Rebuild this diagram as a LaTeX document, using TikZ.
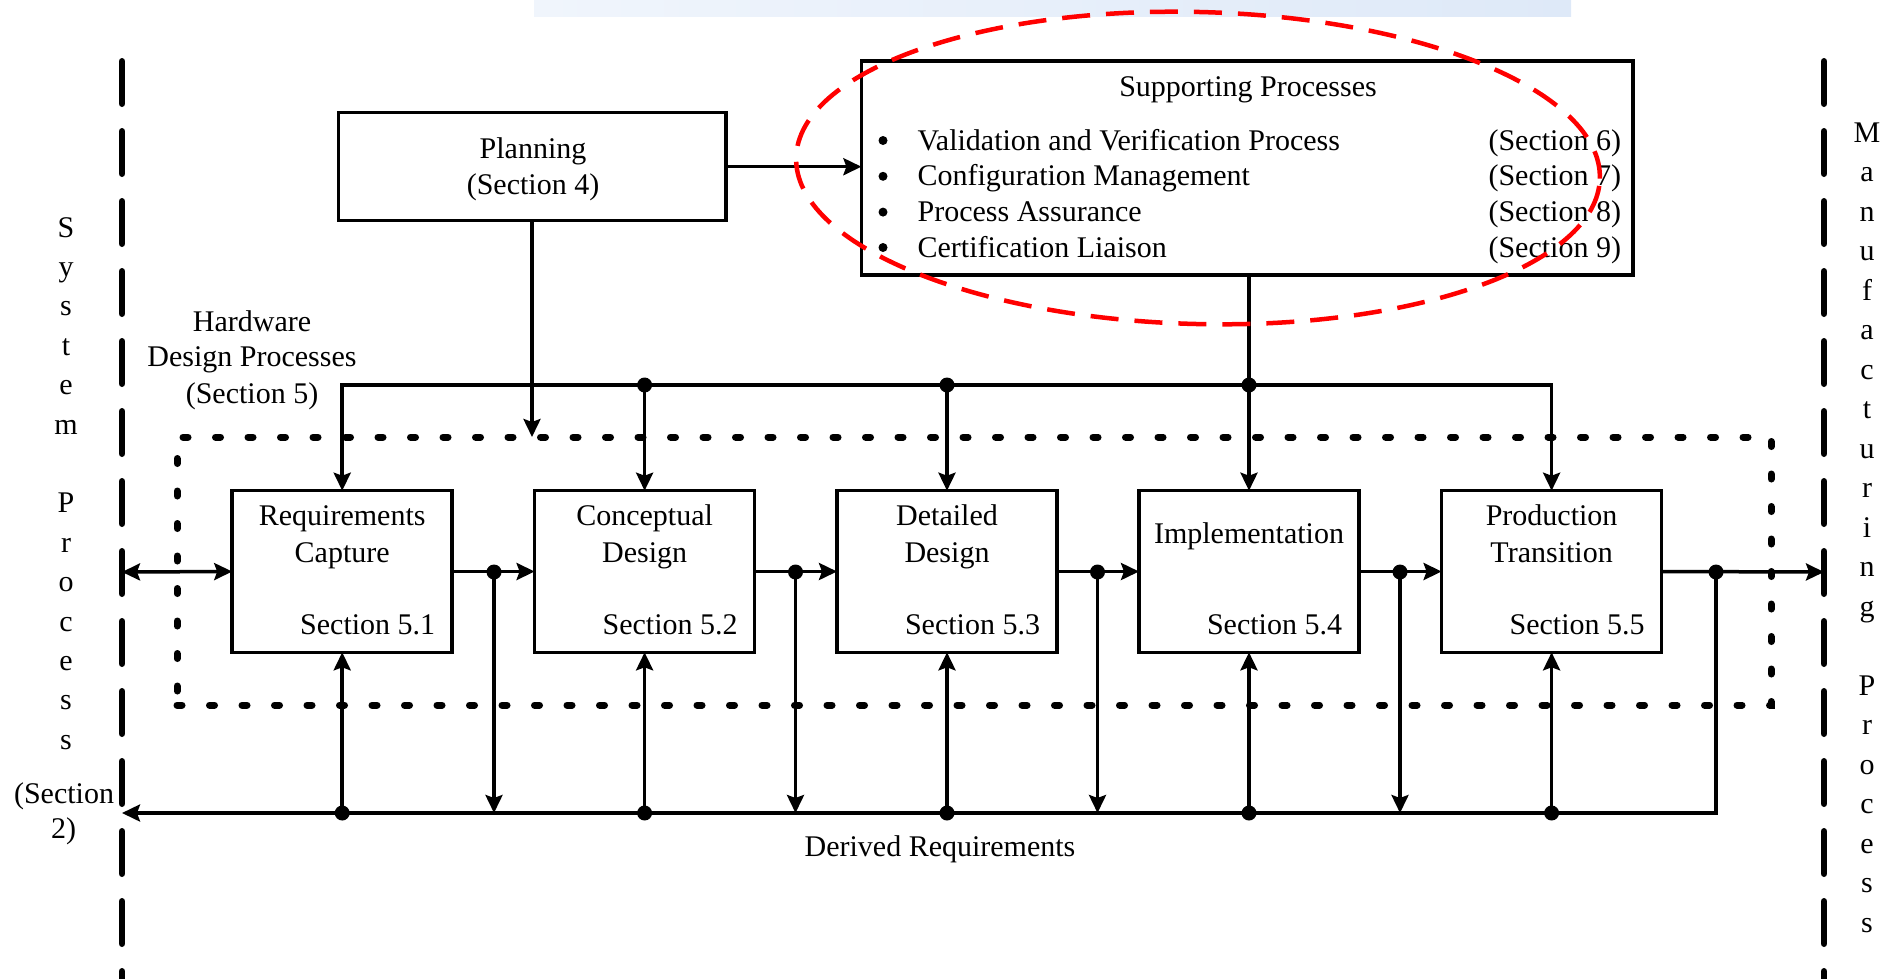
\documentclass[tikz,border=0pt]{standalone}
\usepackage{fontspec}
\setmainfont{Liberation Serif}
\usetikzlibrary{arrows.meta}

\definecolor{bandL}{RGB}{240,245,252}
\definecolor{bandM}{RGB}{214,228,246}
\definecolor{bandR}{RGB}{222,233,248}

\begin{document}
\begin{tikzpicture}[x=1pt,y=-1pt,
  every node/.style={inner sep=0pt, outer sep=0pt, font=\fontsize{30}{36}\selectfont},
  txt/.style={anchor=base},
  conn/.style={line width=3.5pt},
  >={Stealth[length=18pt,width=17pt,inset=3pt]},
  proc/.style={draw, line width=3.5pt, minimum width=220pt, minimum height=161.6pt},
  hwbox/.style={draw, line width=7pt, line cap=round, dash pattern=on 5pt off 27.5pt,
                minimum width=1594pt, minimum height=268pt},
  boundary/.style={line width=6.5pt, line cap=round, dash pattern=on 42.5pt off 27.5pt},
  junction/.style={circle, fill=black, minimum size=15pt},
  bullet/.style={circle, fill=black, minimum size=9pt},
  focus/.style={draw=red, line width=4.5pt, dash pattern=on 28pt off 16pt}
]
\useasboundingbox (0,0) rectangle (1897,978);

% faint banner strip along the top edge
\shade[left color=bandL, middle color=bandM, right color=bandR] (534,0) rectangle (1571,16);

% process boundaries
\coordinate (sysTop) at (122,61.25);
\coordinate (sysBot) at (122,1000);
\coordinate (mfgTop) at (1824,61.25);
\coordinate (mfgBot) at (1824,1000);
\draw[boundary] (sysTop) -- (sysBot);
\draw[boundary] (mfgTop) -- (mfgBot);

\coordinate (sysL) at (122,572);
\coordinate (mfgR) at (1824,572);
\coordinate (busT) at (0,385);
\coordinate (busB) at (0,813);

% side labels
\foreach \c [count=\i from 0] in {S,y,s,t,e,m}
  \node[txt] (sysChar\i) at (66,237+39.4*\i) {\c};
\foreach \c [count=\i from 7] in {P,r,o,c,e,s,s}
  \node[txt] (sysChar\i) at (66,237+39.4*\i) {\c};
\node[txt] (sysSecA) at (64,803) {(Section};
\node[txt] (sysSecB) at (63.5,838) {2)};

\foreach \c [count=\i from 0] in {M,a,n,u,f,a,c,t,u,r,i,n,g}
  \node[txt] (mfgChar\i) at (1867,142+39.5*\i) {\c};
\foreach \c [count=\i from 14] in {P,r,o,c,e,s,s}
  \node[txt] (mfgChar\i) at (1867,142+39.5*\i) {\c};

% planning
\node[draw, line width=3.5pt, minimum width=387.5pt, minimum height=108pt] (plan) at (532,166.7) {};
\node[txt] (planA) at (533,158) {Planning};
\node[txt] (planB) at (533,194) {(Section 4)};

% supporting processes
\node[draw, line width=3.5pt, minimum width=771.6pt, minimum height=214.3pt] (sup) at (1247.2,167.9) {};
\node[txt] (supT) at (1248,96.7) {Supporting Processes};
\foreach \t/\s/\y [count=\k] in {Validation and Verification Process/6/150,
                                 Configuration Management/7/185.8,
                                 Process Assurance/8/221.6,
                                 Certification Liaison/9/257}{
  \node[bullet] (bul\k) at (883,\y-9.5) {};
  \node[txt, anchor=base west] (item\k) at (917.6,\y) {\t};
  \node[txt, anchor=base east] (sec\k) at (1621,\y) {(Section \s)};
}

% hardware design processes
\node[txt] (hwA) at (252,331.7) {Hardware};
\node[txt] (hwB) at (252,366.7) {Design Processes};
\node[txt] (hwC) at (252,403) {(Section 5)};
\node[hwbox] (hw) at (974,571) {};

\node[proc] (req)  at (342.2,571.5) {};
\node[proc] (conc) at (644.6,571.5) {};
\node[proc] (det)  at (947,571.5) {};
\node[proc] (impl) at (1249,571.5) {};
\node[proc] (prod) at (1551.6,571.5) {};

\node[txt] (reqA) at (342.2,525) {Requirements};
\node[txt] (reqB) at (342.2,562) {Capture};
\node[txt, anchor=base east] (reqS) at (435.2,634) {Section 5.1};
\node[txt] (concA) at (644.6,525) {Conceptual};
\node[txt] (concB) at (644.6,562) {Design};
\node[txt, anchor=base east] (concS) at (737.6,634) {Section 5.2};
\node[txt] (detA) at (947,525) {Detailed};
\node[txt] (detB) at (947,562) {Design};
\node[txt, anchor=base east] (detS) at (1040,634) {Section 5.3};
\node[txt] (implA) at (1249,543.5) {Implementation};
\node[txt, anchor=base east] (implS) at (1342,634) {Section 5.4};
\node[txt] (prodA) at (1551.6,525) {Production};
\node[txt] (prodB) at (1551.6,562) {Transition};
\node[txt, anchor=base east] (prodS) at (1644.6,634) {Section 5.5};

\node[txt] (derived) at (940,856) {Derived Requirements};

% control flow from planning and supporting processes
\draw[conn,->] (plan.east) -- (plan.east -| sup.west);
\draw[conn,->] (plan.south) -- (plan.south |- hw.north);
\draw[conn,->] (sup.south -| impl.north) -- (impl.north);
\draw[conn,<->] (req.north) -- (req.north |- busT) -| (prod.north);
\draw[conn,->] (conc.north |- busT) -- (conc.north);
\draw[conn,->] (det.north |- busT) -- (det.north);
\node[junction] (t2) at (conc.north |- busT) {};
\node[junction] (t3) at (det.north |- busT) {};
\node[junction] (t4) at (impl.north |- busT) {};

% main sequence
\node[junction] (j1) at (494,572) {};
\node[junction] (j2) at (795.5,572) {};
\node[junction] (j3) at (1097.5,572) {};
\node[junction] (j4) at (1400,572) {};
\node[junction] (j5) at (1716,572) {};
\draw[conn,<->] (sysL) -- (req.west);
\draw[conn,->] (req.east) -- (conc.west);
\draw[conn,->] (conc.east) -- (det.west);
\draw[conn,->] (det.east) -- (impl.west);
\draw[conn,->] (impl.east) -- (prod.west);
\draw[conn,->] (prod.east) -- (mfgR);

% derived requirements feedback
\draw[conn,->] (j1.center) -- (j1.center |- busB);
\draw[conn,->] (j2.center) -- (j2.center |- busB);
\draw[conn,->] (j3.center) -- (j3.center |- busB);
\draw[conn,->] (j4.center) -- (j4.center |- busB);
\draw[conn,->] (j5.center) -- (j5.center |- busB) -- (sysL |- busB);
\foreach \b [count=\k] in {req,conc,det,impl,prod}{
  \node[junction] (b\k) at (\b.south |- busB) {};
  \draw[conn,->] (b\k.center) -- (\b.south);
}

% highlight around the supporting processes
\draw[focus, rotate around={-1.5:(1198,168)}] (1198,168) ellipse [x radius=402pt, y radius=156pt];

\end{tikzpicture}
\end{document}
